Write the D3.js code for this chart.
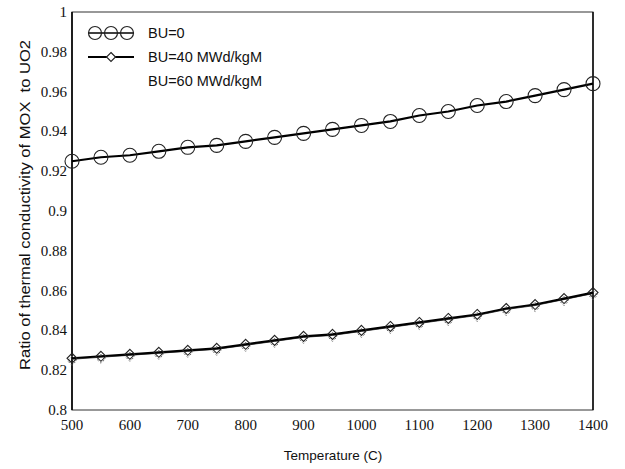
<!DOCTYPE html>
<html><head><meta charset="utf-8">
<script src="https://cdn.jsdelivr.net/npm/d3@7"></script>
<style>body{margin:0;background:#fff}</style>
</head><body>
<svg id="c" width="625" height="469"></svg>
<script>
const temps = [500,550,600,650,700,750,800,850,900,950,1000,1050,1100,1150,1200,1250,1300,1350,1400];
const bu0  = [0.925,0.927,0.928,0.930,0.932,0.933,0.935,0.937,0.939,0.941,0.943,0.945,0.948,0.950,0.953,0.955,0.958,0.961,0.964];
const bu40 = [0.826,0.827,0.828,0.829,0.830,0.831,0.833,0.835,0.837,0.838,0.840,0.842,0.844,0.846,0.848,0.851,0.853,0.856,0.859];
const bu60 = [0.8255,0.8265,0.8275,0.8285,0.8295,0.8305,0.8325,0.8345,0.8365,0.8375,0.8395,0.8415,0.8435,0.8455,0.8475,0.8505,0.8525,0.8555,0.8585];
const xTicks = [500,600,700,800,900,1000,1100,1200,1300,1400];
const yTicks = [0.8,0.82,0.84,0.86,0.88,0.9,0.92,0.94,0.96,0.98,1];
const yTickLabels = ["0.8","0.82","0.84","0.86","0.88","0.9","0.92","0.94","0.96","0.98","1"];
const legendLabels = ["BU=0","BU=40 MWd/kgM","BU=60 MWd/kgM"];

const svg = d3.select("#c");
const L=72, R=593, T=12, B=410;
const x = d3.scaleLinear().domain([500,1400]).range([L,R]);
const y = d3.scaleLinear().domain([0.8,1]).range([B,T]);
const SERIF = "Liberation Serif";

// frame
svg.append("rect").attr("x",L).attr("y",T).attr("width",R-L).attr("height",B-T)
  .attr("fill","none").attr("stroke","#333").attr("stroke-width",1);
svg.append("line").attr("x1",L).attr("x2",L).attr("y1",T).attr("y2",B).attr("stroke","#000").attr("stroke-width",1.6);
svg.append("line").attr("x1",R).attr("x2",R).attr("y1",T).attr("y2",B).attr("stroke","#000").attr("stroke-width",1.4);

// tick labels drawn as plain text from the scales
svg.append("g").selectAll("text").data(xTicks).join("text")
  .attr("x",d=>x(d)).attr("y",B+20).attr("text-anchor","middle")
  .attr("font-family",SERIF).attr("font-size",15).attr("fill","#111").text(d=>String(d));
svg.append("g").selectAll("text").data(yTicks).join("text")
  .attr("x",L-5).attr("y",d=>y(d)+5).attr("text-anchor","end")
  .attr("font-family",SERIF).attr("font-size",15).attr("fill","#111").text((d,i)=>yTickLabels[i]);

// titles
svg.append("text").attr("x",333).attr("y",460).attr("text-anchor","middle")
  .attr("font-family","Liberation Sans").attr("font-size",13.5).attr("fill","#111").text("Temperature (C)");
svg.append("text").attr("transform","translate(30,205) rotate(-90)").attr("text-anchor","middle")
  .attr("font-family","Liberation Sans").attr("font-size",15).attr("fill","#111")
  .attr("textLength",330).attr("lengthAdjust","spacingAndGlyphs")
  .attr("xml:space","preserve").text("Ratio of thermal conductivity of MOX  to UO2");

const line = d3.line().x((d,i)=>x(temps[i])).y(d=>y(d));
const diamond = (cx,cy,s)=>`M${cx},${cy-s}L${cx+s},${cy}L${cx},${cy+s}L${cx-s},${cy}Z`;

// BU=60 (faint)
svg.append("path").datum(bu60).attr("d",line).attr("fill","none").attr("stroke","#555").attr("stroke-width",1);
svg.append("g").selectAll("path").data(bu60).join("path")
  .attr("d",(d,i)=>diamond(x(temps[i]),y(d)+1.5,4.5)).attr("fill","none").attr("stroke","#666")
  .attr("stroke-width",1).attr("stroke-dasharray","2,2");

// BU=40
svg.append("path").datum(bu40).attr("d",line).attr("fill","none").attr("stroke","#000").attr("stroke-width",2.2);
svg.append("g").selectAll("path").data(bu40).join("path")
  .attr("d",(d,i)=>diamond(x(temps[i]),y(d),5)).attr("fill","none").attr("stroke","#222").attr("stroke-width",1.1);

// BU=0
svg.append("path").datum(bu0).attr("d",line).attr("fill","none").attr("stroke","#000").attr("stroke-width",2.2);
svg.append("g").selectAll("circle").data(bu0).join("circle")
  .attr("cx",(d,i)=>x(temps[i])).attr("cy",d=>y(d)).attr("r",7)
  .attr("fill","none").attr("stroke","#222").attr("stroke-width",1.1);

// legend
const lg = svg.append("g");
const ly = [33,57,81];
lg.append("line").attr("x1",88).attr("x2",134).attr("y1",ly[0]).attr("y2",ly[0]).attr("stroke","#000").attr("stroke-width",1.6);
[95,111,127].forEach(cx=>lg.append("circle").attr("cx",cx).attr("cy",ly[0]).attr("r",6.5).attr("fill","none").attr("stroke","#222").attr("stroke-width",1.2));
lg.append("line").attr("x1",88).attr("x2",134).attr("y1",ly[1]).attr("y2",ly[1]).attr("stroke","#000").attr("stroke-width",2);
lg.append("path").attr("d",diamond(111,ly[1],4.5)).attr("fill","#fff").attr("stroke","#222").attr("stroke-width",1.1);
legendLabels.forEach((t,i)=>lg.append("text").attr("x",148).attr("y",ly[i]+5)
  .attr("font-family","Liberation Sans").attr("font-size",14.5).attr("fill","#111").text(t));
</script>
</body></html>
